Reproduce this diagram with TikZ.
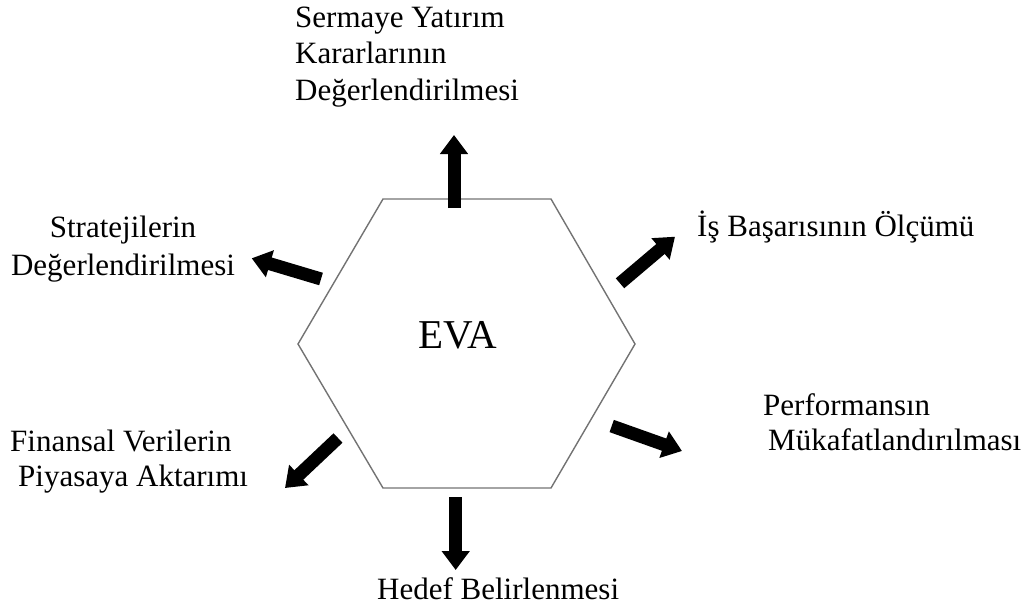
\documentclass[tikz,border=0pt]{standalone}
\usepackage{fontspec}
\setmainfont{Liberation Serif}
\usetikzlibrary{arrows.meta}
\tikzset{
  blockarrow/.style={line width=13pt, -{Triangle[width=27pt,length=19pt]}},
  lbl/.style={font=\fontsize{31}{36.5}\selectfont, inner sep=0pt},
}
\begin{document}
\begin{tikzpicture}[x=1pt,y=-1pt]
            \useasboundingbox (0,0) rectangle (1032,610);
            % hexagon
            \draw [black!55, line width=1.4pt] (383,199) -- (551,199) -- (635,344) -- (551,488) -- (383,488) -- (298,344) -- cycle;
            \node [font=\fontsize{41}{48}\selectfont, inner sep=0pt, anchor=base] (eva) at (457.5,348) {EVA};
            % labels (base = last line)
            \node [lbl, align=left, anchor=base west] (sermaye) at (295,100) {Sermaye Yatırım\\Kararlarının\\Değerlendirilmesi};
            \node [lbl, font=\fontsize{31}{38}\selectfont, align=center, anchor=base] (strateji) at (123,275) {Stratejilerin\\Değerlendirilmesi};
            \node [lbl, anchor=base west] (basari) at (697,236.7) {İş Başarısının Ölçümü};
            \node [lbl, font=\fontsize{31}{35}\selectfont, align=left, anchor=base west] (performans) at (763,450) {Performansın\\\hspace{5pt}Mükafatlandırılması};
            \node [lbl, font=\fontsize{31}{35}\selectfont, align=left, anchor=base west] (finansal) at (10,486.7) {Finansal Verilerin\\\hspace{8pt}Piyasaya Aktarımı};
            \node [lbl, anchor=base west] (hedef) at (377,599) {Hedef Belirlenmesi};
            % arrows
            \coordinate (sermaye-a) at (454,208);   \coordinate (sermaye-b) at (454,135);
            \coordinate (strateji-a) at (321,279);  \coordinate (strateji-b) at (251.7,258.3);
            \coordinate (basari-a) at (620,283.3);  \coordinate (basari-b) at (675,236.7);
            \coordinate (perf-a) at (611.7,426);    \coordinate (perf-b) at (682,451);
            \coordinate (finansal-a) at (338,438);  \coordinate (finansal-b) at (285,488);
            \coordinate (hedef-a) at (455.7,497);   \coordinate (hedef-b) at (455.7,570);
            \foreach \n in {sermaye,strateji,basari,perf,finansal,hedef}
                \draw [blockarrow] (\n-a) -- (\n-b);
\end{tikzpicture}
\end{document}
